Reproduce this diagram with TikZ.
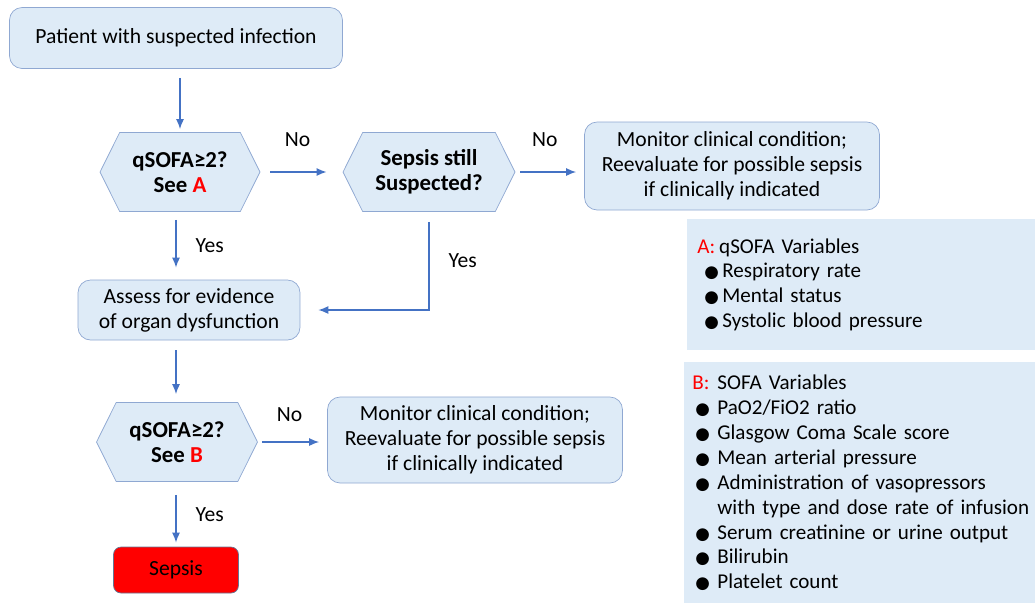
\documentclass[tikz,border=0pt]{standalone}
\usepackage{fontspec}
\setmainfont{Carlito}
\newfontfamily\symfont{DejaVu Sans}
\usetikzlibrary{shapes.symbols,arrows.meta}

\definecolor{boxfill}{HTML}{DEEBF7}
\definecolor{boxline}{HTML}{8FA8D2}
\definecolor{arrowblue}{HTML}{4472C4}
\definecolor{alertred}{HTML}{FF0000}

% one bullet line of a legend
\newcommand{\legitem}[2][0.14cm]{\mbox{\makebox[0.5cm][l]{\hspace{#1}{\symfont\fontsize{9.5}{10}\selectfont ●}}#2}}

\begin{document}
\begin{tikzpicture}[x=0.02cm,y=-0.02cm,
		every node/.style={font=\fontsize{12.3}{14.2}\selectfont},
		box/.style={draw=boxline, fill=boxfill, rounded corners=0.25cm, align=center},
		decision/.style={draw=boxline, fill=boxfill, shape=signal, signal to=west and east, signal pointer angle=127, minimum height=1.58cm, align=center, font=\fontsize{13}{14.4}\selectfont\bfseries},
		flow/.style={draw=arrowblue, thick, -{Latex[length=2mm,width=1.6mm]}},
		lbl/.style={inner sep=0pt},
		legend/.style={fill=boxfill, align=left, anchor=north west, minimum height=#1, font=\fontsize{12}{14.2}\selectfont}]
	\useasboundingbox (0,0) rectangle (1035,603);

	% flow chart
	\node[box, minimum width=6.66cm, minimum height=1.22cm] (patient) at (176,38) {Patient with suspected infection};
	\node[decision, minimum width=3.2cm] (qsofaA) at (180,172) {qSOFA≥2?\\See {\color{alertred}A}};
	\node[decision, minimum width=3.44cm] (still) at (429,172) {Sepsis still\\Suspected?};
	\node[box, minimum width=5.9cm, minimum height=1.76cm] (monitorA) at (732,166) {Monitor clinical condition;\\Reevaluate for possible sepsis\\if clinically indicated};
	\node[box, minimum width=4.44cm, minimum height=1.2cm] (assess) at (189,310) {Assess for evidence\\of organ dysfunction};
	\node[decision, minimum width=3.22cm] (qsofaB) at (177,442) {qSOFA≥2?\\See {\color{alertred}B}};
	\node[box, minimum width=5.9cm, minimum height=1.72cm] (monitorB) at (475,440) {Monitor clinical condition;\\Reevaluate for possible sepsis\\if clinically indicated};
	\node[box, fill=alertred, draw=boxline!70!black, rounded corners=0.15cm, minimum width=2.5cm, minimum height=0.92cm] (sepsis) at (176,570) {Sepsis};

	\draw[flow, shorten <=0.18cm, shorten >=0.06cm] (patient.south -| qsofaA) -- (qsofaA.north);
	\draw[flow, shorten <=0.2cm, shorten >=0.32cm] (qsofaA.east) -- (still.west) node[lbl, midway, above=0.5cm, xshift=-0.08cm]{No};
	\draw[flow, shorten <=0.1cm, shorten >=0.16cm] (still.east) -- (monitorA.west |- still.east) node[lbl, midway, above=0.5cm, xshift=-0.1cm]{No};
	\draw[flow, shorten <=0.16cm, shorten >=0.24cm] (qsofaA.south -| patient) -- (assess.north -| patient) node[lbl, midway, right=0.38cm]{Yes};
	\draw[flow, shorten <=0.2cm, shorten >=0.36cm] (still.south) |- (assess.east) node[lbl, pos=0.25, right=0.38cm]{Yes};
	\draw[flow, shorten <=0.2cm, shorten >=0.16cm] (assess.south -| patient) -- (qsofaB.north -| patient);
	\draw[flow, shorten <=0.08cm, shorten >=0.16cm] (qsofaB.east) -- (monitorB.west |- qsofaB.east) node[lbl, midway, above=0.4cm, xshift=-0.06cm]{No};
	\draw[flow, shorten <=0.26cm, shorten >=0.08cm] (qsofaB.south -| patient) -- (sepsis.north) node[lbl, midway, right=0.38cm]{Yes};

	% legends
	\node[legend=2.62cm, text width=6.56cm, inner xsep=0.2cm] (legendA) at (687,219) {{\color{alertred}A:}\hspace{0.08cm}qSOFA Variables\\
		\legitem{Respiratory rate}\\
		\legitem{Mental status}\\
		\legitem{Systolic blood pressure}};
	\node[legend=4.82cm, text width=6.7cm, inner xsep=0.16cm] (legendB) at (684,362) {{\color{alertred}B:}\hspace{0.16cm}SOFA Variables\\
		\legitem[0.06cm]{PaO2/FiO2 ratio}\\
		\legitem[0.06cm]{Glasgow Coma Scale score}\\
		\legitem[0.06cm]{Mean arterial pressure}\\
		\legitem[0.06cm]{Administration of vasopressors}\\
		\mbox{\hspace*{0.5cm}with type and dose rate of infusion}\\
		\legitem[0.06cm]{Serum creatinine or urine output}\\
		\legitem[0.06cm]{Bilirubin}\\
		\legitem[0.06cm]{Platelet count}};
\end{tikzpicture}
\end{document}
